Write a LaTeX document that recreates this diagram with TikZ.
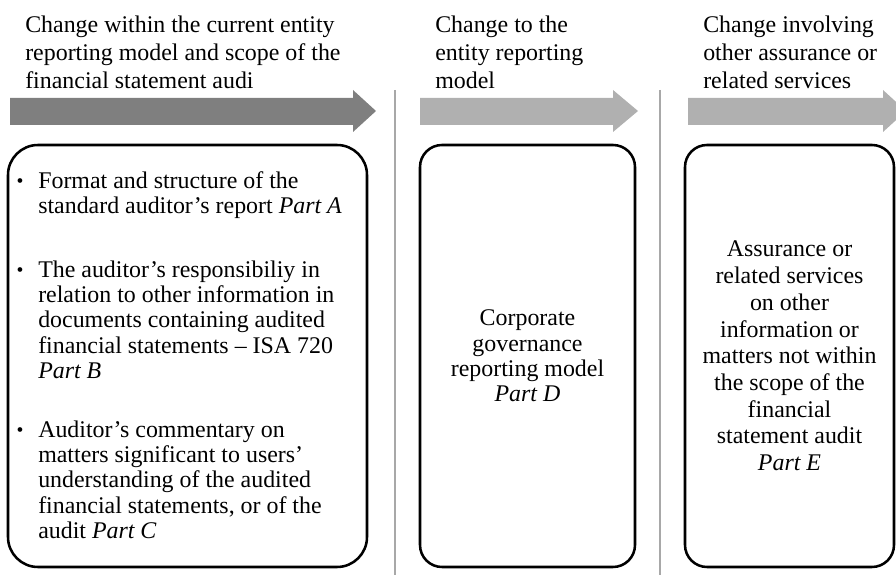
\documentclass[tikz,border=0pt]{standalone}
\usepackage{fontspec}
\setmainfont{Liberation Serif}
\usepackage{tikz}
\usetikzlibrary{positioning, calc}
\definecolor{darkband}{HTML}{7F7F7F}
\definecolor{lightband}{HTML}{B0B0B0}
\definecolor{rulegray}{HTML}{A8A8A8}

\begin{document}
\begin{tikzpicture}
	\def \headht{12.15cm}
	\def \bandlo{11.25}
	\def \bandhi{11.925}
	\def \headlo{11.075}
	\def \headhi{12.125}
	\def \bandmid{11.6}
	\def \boxmid{5.475cm}
	\tikzstyle{head}=[anchor=base west,align=left,inner sep=0pt,font=\fontsize{17}{20}\selectfont]
	\tikzstyle{panel}=[draw=black,line width=1.8pt,rounded corners=0.55cm,inner sep=0pt,minimum height=10.55cm,align=center,font=\fontsize{17}{18}\selectfont]
	\tikzstyle{item}=[anchor=base west,align=left,inner sep=0pt,font=\fontsize{17}{18}\selectfont]
	\tikzstyle{dot}=[anchor=base,inner sep=0pt,font=\fontsize{14}{18}\selectfont]
	\tikzstyle{divider}=[draw=rulegray,line width=2pt]
	% band with arrow head: colour, start, head base, tip
	\def \band#1#2#3#4{\fill[#1] (#2,\bandlo) -- (#3,\bandlo) -- (#3,\headlo) -- (#4,\bandmid) -- (#3,\headhi) -- (#3,\bandhi) -- (#2,\bandhi) -- cycle;}

	\clip (0,0) rectangle (22.4,14.375);

	% headers (anchored on the last line)
	\node[head] 	(h1)	at (0.625cm,\headht)	{Change within the current entity\\reporting model and scope of the\\financial statement audi};
	\node[head] 	(h2)	at (10.875cm,\headht)	{Change to the\\entity reporting\\model};
	\node[head] 	(h3)	at (17.575cm,\headht)	{Change involving\\other assurance or\\related services};

	% arrows
	\band{darkband}{0.25}{8.825}{9.4}
	\band{lightband}{10.5}{15.325}{15.95}
	\band{lightband}{17.2}{22.075}{22.65}

	% dividers
	\draw[divider] (9.875,12.125) -- (9.875,0);
	\draw[divider] (16.5,12.125) -- (16.5,0);

	% panels
	\node[panel,rounded corners=0.75cm,minimum width=8.975cm] 	(p1)	at (4.6875cm,\boxmid)	{};
	\node[panel,minimum width=5.375cm] 	(p2)	at (13.1875cm,\boxmid)	{Corporate\\governance\\reporting model\\\textit{Part D}};
	\node[panel,minimum width=5.225cm,font=\fontsize{17}{19}\selectfont] 	(p3)	at (19.7375cm,\boxmid)	{Assurance or\\related services\\on other\\information or\\matters not within\\the scope of the\\financial\\statement audit\\\textit{Part E}};

	% bullet list (text anchored on its last line)
	\node[dot] 	(d1)	at (0.5cm,9.675cm)	{\textbullet};
	\node[dot] 	(d2)	at (0.5cm,7.45cm)	{\textbullet};
	\node[dot] 	(d3)	at (0.5cm,3.45cm)	{\textbullet};
	\node[item] 	(t1)	at (0.95cm,9.04cm)	{Format and structure of the\\standard auditor’s report \textit{Part A}};
	\node[item] 	(t2)	at (0.95cm,4.91cm)	{The auditor’s responsibiliy in\\relation to other information in\\documents containing audited\\financial statements -- ISA 720\\\textit{Part B}};
	\node[item] 	(t3)	at (0.95cm,0.91cm)	{Auditor’s commentary on\\matters significant to users’\\understanding of the audited\\financial statements, or of the\\audit \textit{Part C}};
\end{tikzpicture}
\end{document}
